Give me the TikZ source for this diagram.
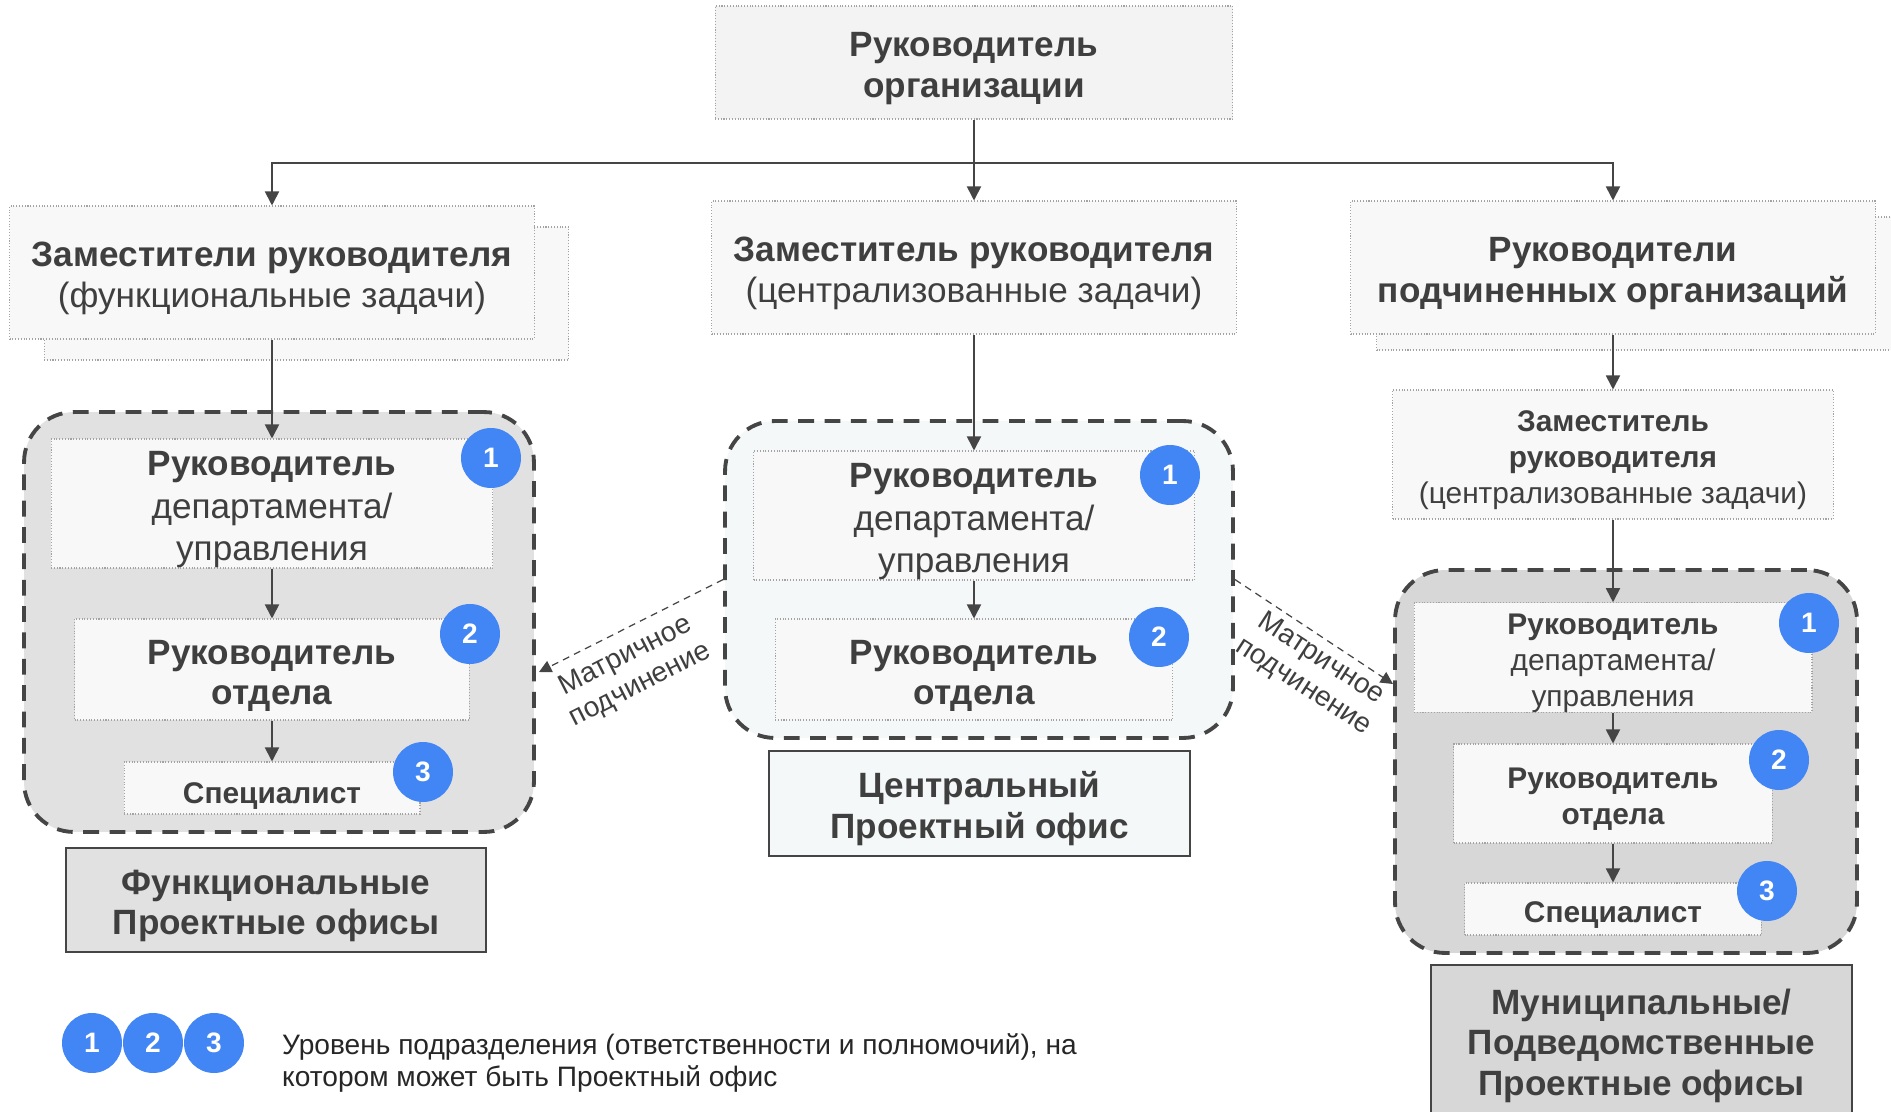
\documentclass[tikz,border=0pt]{standalone}
\usepackage{fontspec}
\setmainfont{Liberation Sans}
\usepackage{xcolor}
\usetikzlibrary{arrows.meta}
\usetikzlibrary{shapes}

\definecolor{txtgray}{HTML}{3F3F3F}
\definecolor{linegray}{HTML}{454545}
\definecolor{dotgray}{HTML}{A3A3A3}
\definecolor{boxfill}{HTML}{F8F8F8}
\definecolor{topfill}{HTML}{F3F3F3}
\definecolor{officegray}{HTML}{E1E1E1}
\definecolor{officedark}{HTML}{D7D7D7}
\definecolor{officeblue}{HTML}{F4F8F8}
\definecolor{badgeblue}{HTML}{4285F4}

\newcommand{\bigfont}{\fontsize{20}{23}\selectfont}
\newcommand{\deptfont}{\fontsize{20}{24}\selectfont}
\newcommand{\midfont}{\fontsize{17}{20.3}\selectfont}
\newcommand{\smallfont}{\fontsize{16}{18.5}\selectfont}
% struts that push the first line down a little
\newcommand{\hibig}{\rule{0pt}{20.8pt}}
\newcommand{\himid}{\rule{0pt}{18.2pt}}

\tikzset{
  box/.style={draw=dotgray, densely dotted, line width=0.6pt, fill=boxfill,
    text=txtgray, align=center, inner sep=0pt, font=\bigfont},
  office/.style={draw=linegray, line width=2.2pt, dash pattern=on 9pt off 6pt,
    rounded corners=1cm, inner sep=0pt},
  caption/.style={draw=linegray, line width=1.2pt, text=txtgray, align=center,
    inner sep=0pt, font=\bigfont\bfseries},
  badge/.style={circle, fill=badgeblue, text=white, inner sep=0pt,
    minimum size=1.2cm, font=\smallfont\bfseries},
  link/.style={draw=linegray, line width=1pt, -{Triangle[length=8pt,width=8pt]}},
  matrixlink/.style={draw=linegray, line width=0.7pt, dash pattern=on 4pt off 3pt,
    -{Triangle[length=7pt,width=7pt]}},
}

\begin{document}
\begin{tikzpicture}[x=0.02cm, y=-0.02cm]
        \useasboundingbox (0,0) rectangle (1891,1112);

        % top level
        \node[box, fill=topfill, minimum width=10.36cm, minimum height=2.26cm, font=\bigfont\bfseries]
            (top) at (974, 62.5) {\hibig Руководитель\\организации};

        \node[box, minimum width=10.5cm, minimum height=2.66cm] (depLshadow) at (306.5, 293.5) {};
        \node[box, minimum width=10.5cm, minimum height=2.66cm] (depL) at (272, 272.5)
            {\hibig\textbf{Заместители руководителя}\\(функциональные задачи)};
        \node[box, minimum width=10.5cm, minimum height=2.66cm] (depC) at (974, 267.5)
            {\hibig\textbf{Заместитель руководителя}\\(централизованные задачи)};
        \node[box, minimum width=10.5cm, minimum height=2.66cm] (depRshadow) at (1639, 283.5) {};
        \node[box, minimum width=10.5cm, minimum height=2.66cm, font=\bigfont\bfseries] (depR) at (1613, 267.5)
            {\hibig Руководители\\подчиненных организаций};
        \node[box, minimum width=8.82cm, minimum height=2.58cm, font=\midfont] (zamR) at (1613, 454.5)
            {\himid\textbf{Заместитель}\\\textbf{руководителя}\\(централизованные задачи)};

        % offices
        \node[office, fill=officegray, minimum width=10.2cm, minimum height=8.4cm] (contL) at (279, 622) {};
        \node[office, fill=officeblue, minimum width=10.16cm, minimum height=6.34cm] (contC) at (979, 579.5) {};
        \node[office, fill=officedark, minimum width=9.24cm, minimum height=7.66cm] (contR) at (1626, 761.5) {};

        \node[box, minimum width=8.84cm, minimum height=2.58cm, font=\deptfont] (deptL) at (272, 503.5)
            {\hibig\textbf{Руководитель}\\департамента/\\управления};
        \node[box, minimum width=7.9cm, minimum height=2.02cm, font=\bigfont\bfseries] (otdL) at (272, 669.5)
            {\hibig Руководитель\\отдела};
        \node[box, minimum width=5.92cm, minimum height=1.04cm, font=\midfont\bfseries] (specL) at (272, 788)
            {\hibig Специалист};

        \node[box, minimum width=8.82cm, minimum height=2.58cm, font=\deptfont] (deptC) at (974, 515.5)
            {\hibig\textbf{Руководитель}\\департамента/\\управления};
        \node[box, minimum width=7.96cm, minimum height=2.02cm, font=\bigfont\bfseries] (otdC) at (974, 669.5)
            {\hibig Руководитель\\отдела};

        \node[box, minimum width=7.96cm, minimum height=2.02cm, font=\midfont] (deptR) at (1613, 657.5)
            {\himid\textbf{Руководитель}\\департамента/\\управления};
        \node[box, minimum width=6.38cm, minimum height=1.98cm, font=\midfont\bfseries] (otdR) at (1613, 793.5)
            {\himid Руководитель\\отдела};
        \node[box, minimum width=5.94cm, minimum height=1.04cm, font=\midfont\bfseries] (specR) at (1613, 909)
            {\himid Специалист};

        % captions
        \node[caption, fill=officegray, minimum width=8.4cm, minimum height=2.08cm] (labL) at (276, 900)
            {\hibig Функциональные\\Проектные офисы};
        \node[caption, fill=officeblue, minimum width=8.42cm, minimum height=2.1cm] (labC) at (979.5, 803.5)
            {\hibig Центральный\\Проектный офис};
        \node[caption, fill=officedark, minimum width=8.42cm, minimum height=3cm] (labR) at (1641.5, 1040)
            {\hibig Муниципальные/\\Подведомственные\\Проектные офисы};

        % connectors
        \coordinate (split) at (974, 163);
        \draw[link] (top.south) -- (depC.north);
        \draw[link] (split) -| (depL.north);
        \draw[link] (split) -| (depR.north);
        \draw[link] (depL.south) -- (deptL.north);
        \draw[link] (deptL) -- (otdL);
        \draw[link] (otdL) -- (specL);
        \draw[link] (depC.south) -- (deptC.north);
        \draw[link] (deptC) -- (otdC);
        \draw[link] (depR.south) -- (zamR.north);
        \draw[link] (zamR) -- (deptR);
        \draw[link] (deptR) -- (otdR);
        \draw[link] (otdR) -- (specR);

        \coordinate (mxL) at (539, 672);
        \coordinate (mxR) at (1393, 684);
        \draw[matrixlink] (contC.west) -- (mxL);
        \draw[matrixlink] (contC.east) -- (mxR);
        \node[rotate=27, align=center, text=txtgray, font=\smallfont] (mxLtext) at (633, 671)
            {Матричное\\подчинение};
        \node[rotate=-33, align=center, text=txtgray, font=\smallfont] (mxRtext) at (1312, 673)
            {Матричное\\подчинение};

        % levels
        \node[badge] (bL1) at (491, 458) {1};
        \node[badge] (bL2) at (470, 634) {2};
        \node[badge] (bL3) at (423, 772) {3};
        \node[badge] (bC1) at (1170, 475) {1};
        \node[badge] (bC2) at (1159, 637) {2};
        \node[badge] (bR1) at (1809, 623) {1};
        \node[badge] (bR2) at (1779, 760) {2};
        \node[badge] (bR3) at (1767, 891) {3};

        % legend
        \node[badge] (key1) at (92, 1043) {1};
        \node[badge] (key2) at (153, 1043) {2};
        \node[badge] (key3) at (214, 1043) {3};
        \node[anchor=west, align=left, text=black!85, font=\smallfont] (keytext) at (276, 1063)
            {Уровень подразделения (ответственности и полномочий), на\\котором может быть Проектный офис};
\end{tikzpicture}
\end{document}
